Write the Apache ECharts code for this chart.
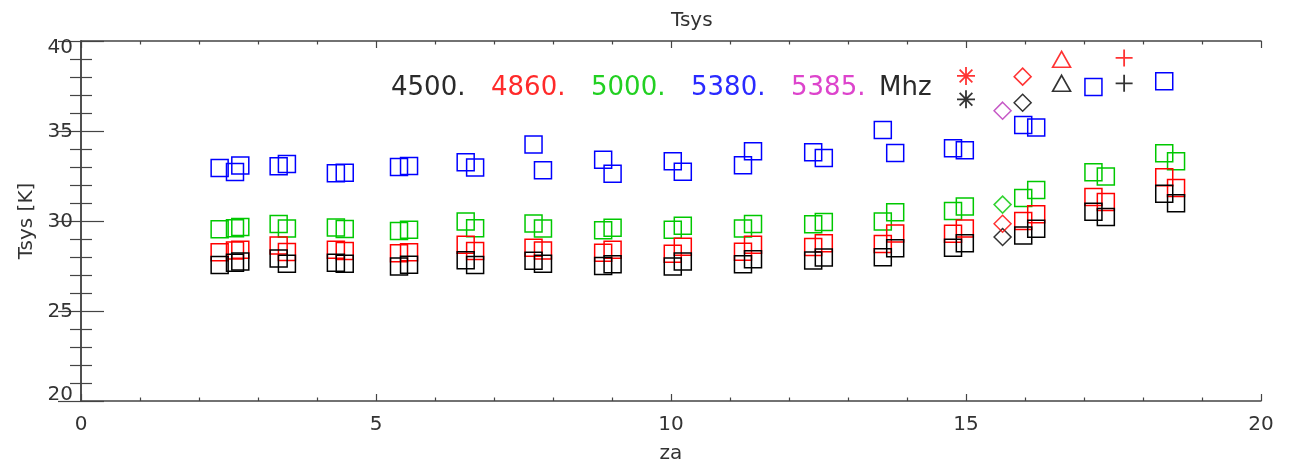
<!DOCTYPE html>
<html>
<head>
<meta charset="utf-8">
<script src="https://cdn.jsdelivr.net/npm/echarts@6/dist/echarts.min.js"></script>
<style>
  html, body { margin: 0; padding: 0; background: #fff; }
  #chart { width: 1295px; height: 472px; }
</style>
</head>
<body>
<div id="chart"></div>
<script>
// ---- data ----
const za = [2.35, 2.61, 2.70, 3.35, 3.49, 4.32, 4.47, 5.39, 5.56, 6.52, 6.68, 7.67, 7.83,
  8.85, 9.01, 10.03, 10.20, 11.22, 11.39, 12.41, 12.59, 13.59, 13.80, 14.78, 14.98,
  15.97, 16.19, 17.16, 17.37, 18.36, 18.56];
const tsys4500 = [27.55, 27.68, 27.75, 27.91, 27.62, 27.68, 27.62, 27.47, 27.57, 27.82, 27.56,
  27.79, 27.62, 27.50, 27.60, 27.47, 27.75, 27.60, 27.88, 27.81, 27.97, 27.98, 28.48,
  28.51, 28.76, 29.20, 29.57, 30.51, 30.22, 31.51, 30.99];
const tsys4860 = [28.27, 28.36, 28.40, 28.64, 28.28, 28.40, 28.33, 28.21, 28.27, 28.68, 28.34,
  28.51, 28.36, 28.23, 28.40, 28.18, 28.57, 28.29, 28.68, 28.55, 28.77, 28.72, 29.31,
  29.29, 29.59, 30.00, 30.38, 31.33, 31.06, 32.43, 31.84];
const tsys5000 = [29.54, 29.60, 29.66, 29.84, 29.58, 29.64, 29.56, 29.45, 29.51, 29.97, 29.60,
  29.86, 29.59, 29.49, 29.63, 29.51, 29.73, 29.58, 29.84, 29.82, 29.95, 29.97, 30.49,
  30.56, 30.81, 31.28, 31.72, 32.71, 32.47, 33.77, 33.32];
const tsys5380 = [32.94, 32.72, 33.08, 33.04, 33.16, 32.65, 32.68, 33.00, 33.06, 33.27, 32.97,
  34.25, 32.82, 33.40, 32.62, 33.32, 32.74, 33.10, 33.87, 33.82, 33.50, 35.06, 33.78,
  34.04, 33.93, 35.34, 35.20, 37.44, null, 37.77, null];

// extra symbols
const diamondZa = [15.62, 15.62, 15.62, 15.62, 15.96, 15.96];
const diamondT = [29.11, 29.85, 30.91, 36.13, 36.57, 38.02];
const diamondFreq = ['4500', '4860', '5000', '5385', '4500', '4860'];
const starZa = [15.0, 15.0];
const starT = [36.76, 38.06];
const starFreq = ['4500', '4860'];
const triZa = [16.62, 16.62];
const triT = [37.65, 38.98];
const triFreq = ['4500', '4860'];
const plusZa = [17.68, 17.68];
const plusT = [37.65, 39.06];
const plusFreq = ['4500', '4860'];

const freqLabels = ['4500.', '4860.', '5000.', '5380.', '5385.'];
const unitLabel = 'Mhz';
const xTicks = [0, 5, 10, 15, 20];
const yTicks = [20, 25, 30, 35, 40];

// ---- styling ----
const colors = { '4500': '#000000', '4860': '#ff0000', '5000': '#00c800', '5380': '#0000ff', '5385': '#b830b8' };
const textColors = ['#2a2a2a', '#ff2a2a', '#22d022', '#2a2aff', '#dd44cc'];
const FONT = 'DejaVu Sans';
const axisColor = '#444';
const labelColor = '#333';

function pairs(xs, ys) {
  const out = [];
  for (let i = 0; i < xs.length; i++) if (ys[i] !== null) out.push([xs[i], ys[i]]);
  return out;
}
function colored(xs, ys, fs) {
  return xs.map((x, i) => ({ value: [x, ys[i]], itemStyle: { borderColor: colors[fs[i]] } }));
}
function squareSeries(name, vals) {
  return {
    type: 'scatter', name: name, symbol: 'rect', symbolSize: 17,
    itemStyle: { color: 'rgba(0,0,0,0)', borderColor: colors[name], borderWidth: 1.5, opacity: 1 },
    data: pairs(za, vals), animation: false, silent: true
  };
}

const chart = echarts.init(document.getElementById('chart'), null, { renderer: 'canvas' });

const baseX = {
  type: 'value', min: xTicks[0], max: xTicks[xTicks.length - 1], interval: 5,
  axisLine: { show: true, lineStyle: { color: axisColor, width: 1.5 } },
  axisTick: { show: true, inside: true, length: 7, lineStyle: { color: axisColor, width: 1.2 } },
  minorTick: { show: true, splitNumber: 5, length: 3.5, lineStyle: { color: axisColor, width: 1.2 } },
  splitLine: { show: false }, minorSplitLine: { show: false }
};
const baseY = {
  type: 'value', min: yTicks[0], max: yTicks[yTicks.length - 1], interval: 5,
  axisLine: { show: true, lineStyle: { color: axisColor, width: 1.5 } },
  axisTick: { show: true, inside: true, length: 23, lineStyle: { color: axisColor, width: 1.2 } },
  minorTick: { show: true, splitNumber: 5, length: 11, lineStyle: { color: axisColor, width: 1.2 } },
  splitLine: { show: false }, minorSplitLine: { show: false }
};

const graphics = [
  { type: 'text', left: 671, top: 11, style: { text: 'Tsys', font: '20px "' + FONT + '"', fill: labelColor, textAlign: 'center' } }
];
freqLabels.forEach((t, i) => {
  graphics.push({ type: 'text', left: 391 + i * 100, top: 75,
    style: { text: t, font: '26px "' + FONT + '"', fill: textColors[i] } });
});
graphics.push({ type: 'text', left: 879, top: 75, style: { text: unitLabel, font: '26px "' + FONT + '"', fill: '#2a2a2a' } });

const option = {
  backgroundColor: '#ffffff',
  animation: false,
  grid: { left: 81, right: 34, top: 41, bottom: 71, containLabel: false },
  xAxis: [
    Object.assign({}, baseX, {
      position: 'bottom', name: 'za', nameLocation: 'middle', nameGap: 43,
      nameTextStyle: { fontFamily: FONT, fontSize: 20, color: labelColor },
      axisLabel: { show: true, margin: 14, fontFamily: FONT, fontSize: 20, color: labelColor, showMinLabel: true, showMaxLabel: true }
    }),
    Object.assign({}, baseX, { position: 'top', axisLabel: { show: false } })
  ],
  yAxis: [
    Object.assign({}, baseY, {
      position: 'left', name: 'Tsys [K]', nameLocation: 'middle', nameGap: 44, nameRotate: 90,
      nameTextStyle: { fontFamily: FONT, fontSize: 20, color: labelColor },
      axisLabel: {
        show: true, margin: 8, fontFamily: FONT, fontSize: 20, color: labelColor,
        showMinLabel: true, showMaxLabel: true,
        formatter: function (v) {
          if (v === yTicks[yTicks.length - 1]) return '{hi|' + v + '}';
          if (v === yTicks[0]) return '{lo|' + v + '}';
          return '{n|' + v + '}';
        },
        rich: {
          hi: { fontFamily: FONT, fontSize: 20, color: labelColor, padding: [14, 0, 0, 0] },
          lo: { fontFamily: FONT, fontSize: 20, color: labelColor, padding: [0, 0, 12, 0] },
          n: { fontFamily: FONT, fontSize: 20, color: labelColor, padding: [2, 0, 0, 0] }
        }
      }
    }),
    Object.assign({}, baseY, { position: 'right', axisLabel: { show: false } })
  ],
  graphic: graphics,
  series: [
    squareSeries('5380', tsys5380),
    squareSeries('5000', tsys5000),
    squareSeries('4860', tsys4860),
    squareSeries('4500', tsys4500),
    {
      type: 'scatter', symbol: 'diamond', symbolSize: 17, silent: true,
      itemStyle: { color: 'rgba(0,0,0,0)', borderWidth: 1.5 },
      data: colored(diamondZa, diamondT, diamondFreq)
    },
    {
      type: 'scatter', silent: true, symbolSize: 18,
      symbol: 'path://M10,0L10,20M0,10L20,10M2.93,2.93L17.07,17.07M17.07,2.93L2.93,17.07',
      itemStyle: { color: 'rgba(0,0,0,0)', borderWidth: 1.8 },
      data: colored(starZa, starT, starFreq)
    },
    {
      type: 'scatter', symbol: 'triangle', symbolSize: [18, 16], silent: true,
      itemStyle: { color: 'rgba(0,0,0,0)', borderWidth: 1.6 },
      data: colored(triZa, triT, triFreq)
    },
    {
      type: 'scatter', silent: true, symbolSize: 17,
      symbol: 'path://M10,0L10,20M0,10L20,10',
      itemStyle: { color: 'rgba(0,0,0,0)', borderWidth: 1.8 },
      data: colored(plusZa, plusT, plusFreq)
    }
  ]
};
chart.setOption(option);
</script>
</body>
</html>
